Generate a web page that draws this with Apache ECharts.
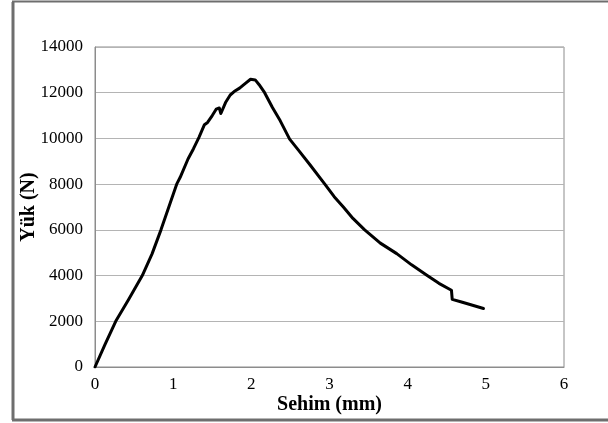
<!DOCTYPE html>
<html>
<head>
<meta charset="utf-8">
<script src="https://cdn.jsdelivr.net/npm/echarts@6/dist/echarts.min.js"></script>
<style>
html,body{margin:0;padding:0;background:#fff;}
#chart{width:608px;height:423px;}
</style>
</head>
<body>
<div id="chart"></div>
<script>
// Deflection (mm)
var sehim = [0, 0.13, 0.265, 0.43, 0.605, 0.73, 0.844, 0.95, 1.045, 1.09, 1.19, 1.26, 1.33, 1.40, 1.44, 1.50, 1.55, 1.59, 1.61, 1.67, 1.73, 1.78, 1.85, 1.92, 1.99, 2.05, 2.10, 2.17, 2.27, 2.37, 2.49, 2.60, 2.75, 2.94, 3.06, 3.18, 3.30, 3.45, 3.65, 3.86, 4.05, 4.25, 4.40, 4.56, 4.57, 4.70, 4.83, 4.97];
// Load (N)
var yuk = [0, 1000, 2000, 2950, 4000, 4950, 6000, 7050, 8000, 8300, 9100, 9550, 10050, 10600, 10700, 11000, 11280, 11330, 11090, 11570, 11900, 12050, 12200, 12400, 12590, 12560, 12350, 12000, 11350, 10770, 9970, 9500, 8850, 8000, 7450, 6990, 6500, 6000, 5420, 4960, 4470, 4000, 3660, 3360, 2960, 2830, 2700, 2560];
var xTicks = [0, 1, 2, 3, 4, 5, 6];
var yTicks = [0, 2000, 4000, 6000, 8000, 10000, 12000, 14000];

var data = sehim.map(function (x, i) { return [x, yuk[i]]; });
var chart = echarts.init(document.getElementById('chart'));
var font = 'Liberation Serif, Times New Roman, serif';
chart.setOption({
  animation: false,
  backgroundColor: '#fff',
  grid: { left: 95, right: 44, top: 47, bottom: 56, show: true, borderColor: '#8c8c8c', borderWidth: 1 },
  xAxis: {
    type: 'value', min: xTicks[0], max: xTicks[xTicks.length - 1], interval: 1,
    name: 'Sehim (mm)', nameLocation: 'middle', nameGap: 28, nameMoveOverlap: false,
    nameTextStyle: { fontFamily: font, fontWeight: 'bold', fontSize: 20, color: '#000' },
    axisLine: { show: true, lineStyle: { color: '#8c8c8c', width: 1 } },
    axisTick: { show: false },
    splitLine: { show: false },
    axisLabel: { fontFamily: font, fontSize: 17, color: '#000', margin: 9, formatter: function (v) { return String(v); } }
  },
  yAxis: {
    type: 'value', min: yTicks[0], max: yTicks[yTicks.length - 1], interval: 2000,
    name: 'Yük (N)', nameLocation: 'middle', nameGap: 56, nameRotate: 90, nameMoveOverlap: false,
    nameTextStyle: { fontFamily: font, fontWeight: 'bold', fontSize: 20, color: '#000' },
    axisLine: { show: true, lineStyle: { color: '#8c8c8c', width: 1 } },
    axisTick: { show: false },
    splitLine: { show: true, lineStyle: { color: '#b4b4b4', width: 1 } },
    axisLabel: { fontFamily: font, fontSize: 17, color: '#000', margin: 12, formatter: function (v) { return String(v); } }
  },
  series: [{
    type: 'line', data: data, showSymbol: false, symbol: 'none',
    lineStyle: { color: '#000', width: 3, join: 'round', cap: 'round' }
  }],
  graphic: [
    { type: 'line', shape: { x1: 13, y1: 2, x2: 13, y2: 420 }, style: { stroke: '#6e6e6e', lineWidth: 3 } },
    { type: 'line', shape: { x1: 12, y1: 1.5, x2: 608, y2: 1.5 }, style: { stroke: '#6e6e6e', lineWidth: 2 } },
    { type: 'line', shape: { x1: 12, y1: 420, x2: 608, y2: 420 }, style: { stroke: '#6e6e6e', lineWidth: 3 } }
  ]
});
</script>
</body>
</html>
